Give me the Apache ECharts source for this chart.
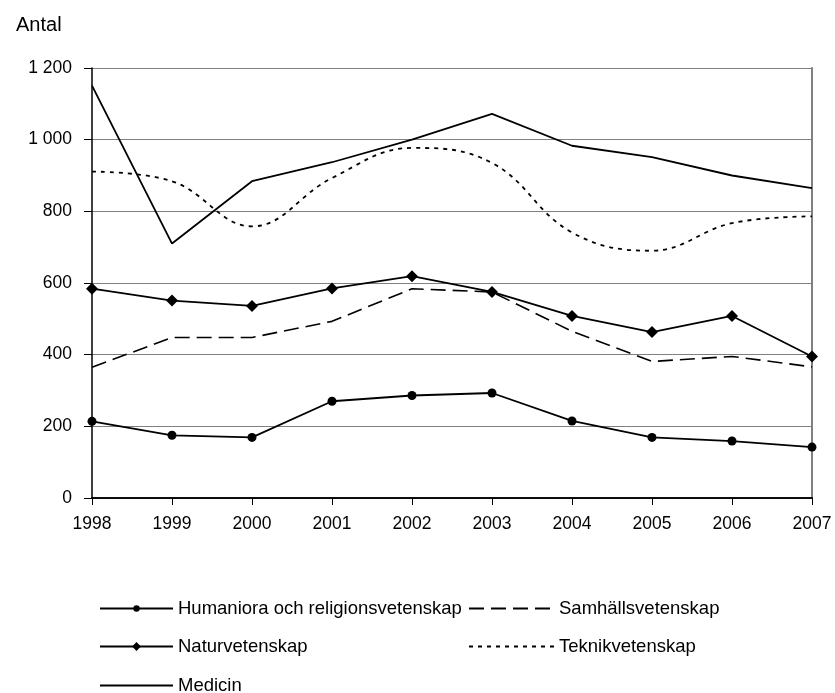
<!DOCTYPE html>
<html>
<head>
<meta charset="utf-8">
<script src="https://cdn.jsdelivr.net/npm/echarts@6/dist/echarts.min.js"></script>
<style>
html,body{margin:0;padding:0;background:#fff;}
#c{width:835px;height:693px;}
</style>
</head>
<body>
<div id="c"></div>
<script>
var years = ['1998','1999','2000','2001','2002','2003','2004','2005','2006','2007'];
var humaniora = [214, 175, 169, 270, 286, 293, 215, 169, 159, 142];
var samhalls = [365, 448, 448, 493, 584, 575, 465, 381, 395, 366];
var natur = [584, 551, 536, 585, 619, 575, 508, 463, 508, 395];
var teknik = [911, 884, 758, 893, 977, 935, 741, 690, 767, 786];
var medicin = [1151, 710, 884, 937, 1000, 1072, 983, 951, 900, 865];
var names = ['Humaniora och religionsvetenskap','Samhällsvetenskap','Naturvetenskap','Teknikvetenskap','Medicin'];

var FONT = 'Liberation Sans, Arial, sans-serif';
var chart = echarts.init(document.getElementById('c'));
function leg(name, left, top, w, h, hideSymbol){
  var item = {name:name};
  if (hideSymbol) item.itemStyle = {opacity:0};
  return {data:[item], left:left, top:top, itemWidth:w, itemHeight:h, padding:0,
    selectedMode:false, textStyle:{fontFamily:FONT, fontSize:18.5, color:'#000'}};
}
chart.setOption({
  animation:false,
  backgroundColor:'#fff',
  title:{text:'Antal', left:11, top:10, textStyle:{fontFamily:FONT, fontSize:20, fontWeight:'normal', color:'#000'}},
  grid:{left:92, right:23, top:68, bottom:195, containLabel:false},
  legend:[
    leg(names[0], 99, 599, 73, 8, false),
    leg(names[1], 468, 599, 85, 8, true),
    leg(names[2], 99, 637, 73, 11, false),
    leg(names[3], 468, 637, 85, 8, true),
    leg(names[4], 99, 676, 73, 8, true)
  ],
  xAxis:[{
    type:'category', data:years, boundaryGap:false,
    axisLine:{lineStyle:{color:'#000', width:1.5}},
    axisTick:{show:true, length:7, lineStyle:{color:'#000'}},
    axisLabel:{fontFamily:FONT, fontSize:17.5, color:'#000', margin:17},
    splitLine:{show:false}
  },{
    type:'category', data:years, boundaryGap:false, position:'top',
    axisLine:{lineStyle:{color:'#000', width:1.5}},
    axisTick:{show:false}, axisLabel:{show:false}, splitLine:{show:false}
  }],
  yAxis:[{
    type:'value', min:0, max:1200, interval:200,
    axisLine:{show:true, lineStyle:{color:'#000', width:1.5}},
    axisTick:{show:true, length:8, lineStyle:{color:'#000'}},
    axisLabel:{fontFamily:FONT, fontSize:17.5, color:'#000', margin:20,
      formatter:function(v){ return String(v).replace(/\B(?=(\d{3})+(?!\d))/g,' '); }},
    splitLine:{show:true, lineStyle:{color:'#808080', width:1}}
  },{
    type:'value', min:0, max:1200, interval:200, position:'right',
    axisLine:{show:true, lineStyle:{color:'#808080', width:2}},
    axisTick:{show:false}, axisLabel:{show:false}, splitLine:{show:false}
  }],
  series:[
    {name:names[0], type:'line', data:humaniora, symbol:'circle', symbolSize:9,
      itemStyle:{color:'#000'}, lineStyle:{color:'#000', width:1.8}},
    {name:names[1], type:'line', data:samhalls, symbol:'none',
      itemStyle:{color:'#000'}, lineStyle:{color:'#000', width:1.6, type:[15,7]}},
    {name:names[2], type:'line', data:natur, symbol:'diamond', symbolSize:12,
      itemStyle:{color:'#000'}, lineStyle:{color:'#000', width:1.8}},
    {name:names[3], type:'line', data:teknik, symbol:'none', smooth:0.4,
      itemStyle:{color:'#000'}, lineStyle:{color:'#000', width:1.8, type:[4,5]}},
    {name:names[4], type:'line', data:medicin, symbol:'none',
      itemStyle:{color:'#000'}, lineStyle:{color:'#000', width:1.8}}
  ]
});
</script>
</body>
</html>
